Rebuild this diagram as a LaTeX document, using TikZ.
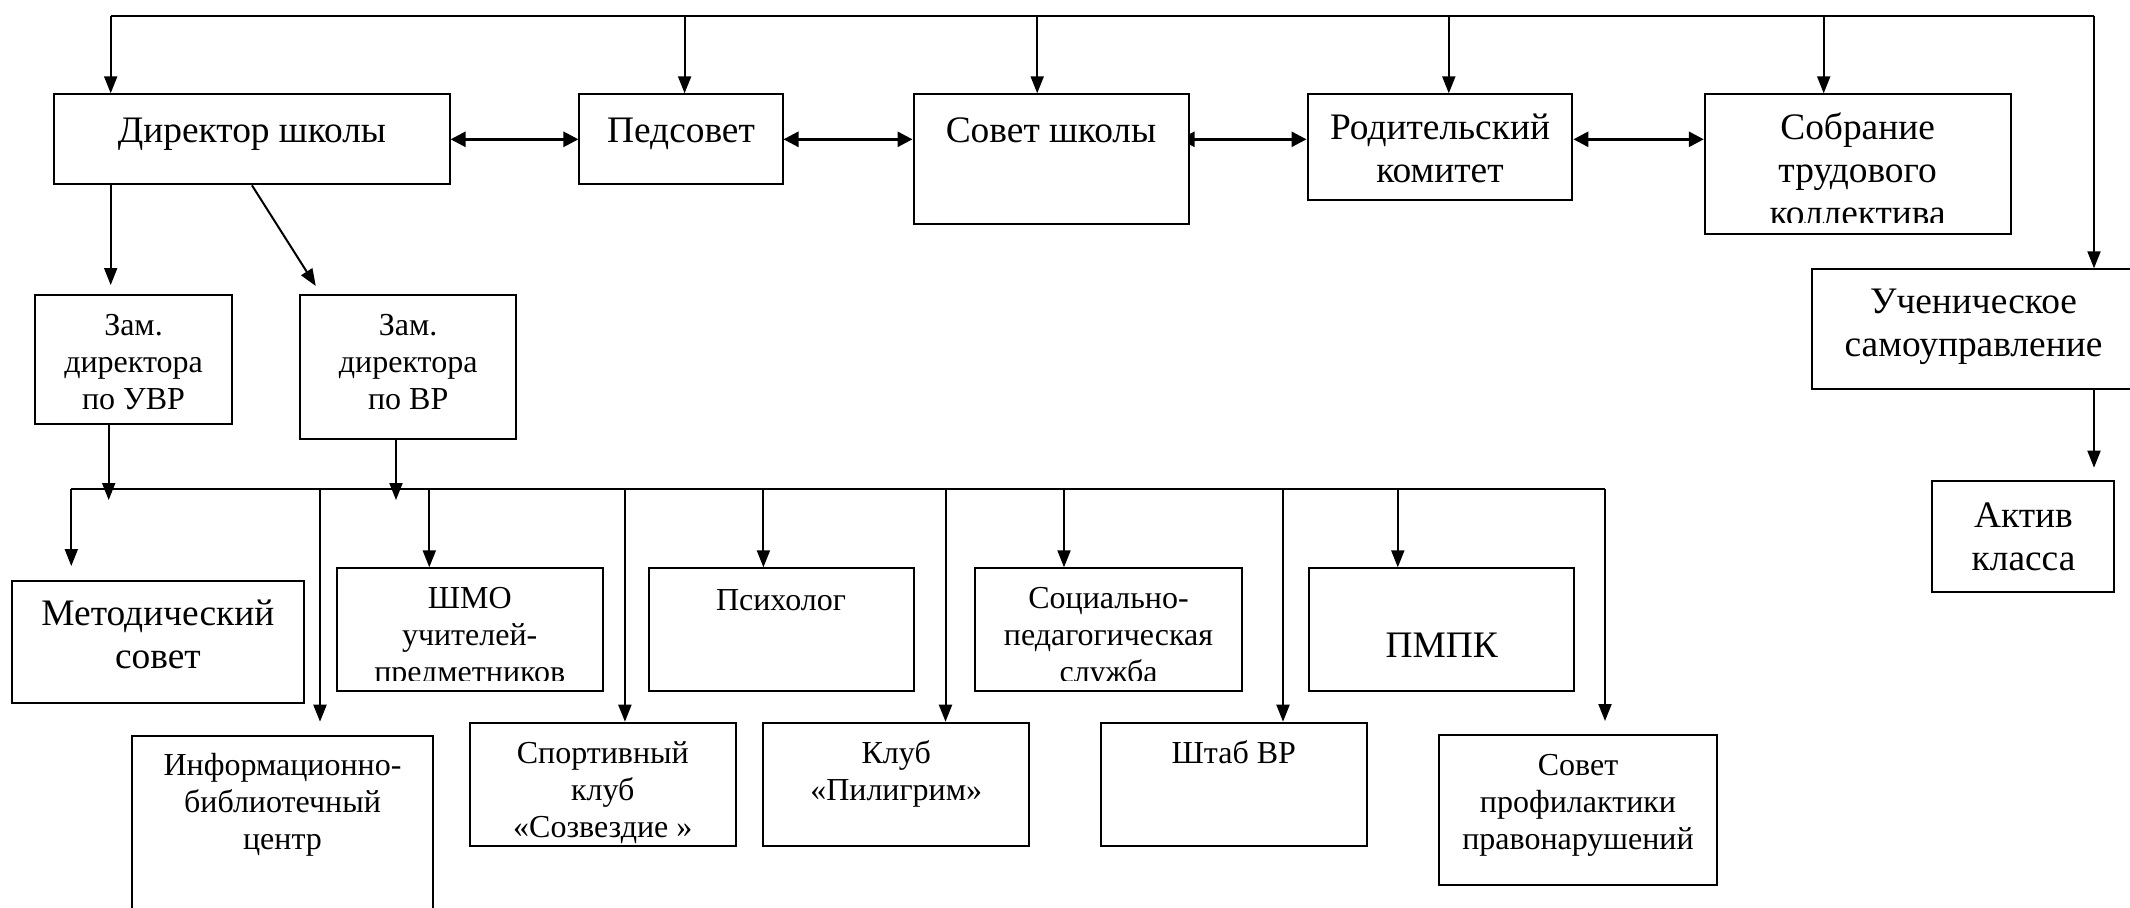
\documentclass[tikz,border=0pt]{standalone}
\usepackage{fontspec}
\setmainfont{Liberation Serif}
\usetikzlibrary{arrows.meta,fit,calc}
\pgfdeclarelayer{backdrop}
\pgfdeclarelayer{bg}
\pgfsetlayers{backdrop,bg,main}
\tikzset{
  box/.style={draw, line width=1pt, fill=white, inner sep=0pt},
  big/.style={font=\fontsize{18.7}{21.5}\selectfont, align=center, inner sep=0pt, anchor=north},
  small/.style={font=\fontsize{16}{18.5}\selectfont, align=center, inner sep=0pt, anchor=north},
  conn/.style={line width=1pt},
  arr/.style={line width=1pt, -{Triangle[length=8.5pt,width=6.5pt]}},
  darr/.style={line width=1.4pt, {Triangle[length=7.5pt,width=7.5pt]}-{Triangle[length=7.5pt,width=7.5pt]}}
}
\begin{document}
\begin{tikzpicture}[x=0.5pt,y=-0.5pt]
\clip (0,0) rectangle (2130,907);
\begin{pgfonlayer}{backdrop}
\fill[white] (0,0) rectangle (2130,907);
\end{pgfonlayer}
% boxes
\node[box, fit={(54.3,94.3) (449.6,184.3)}] (dir) {};
\node[box, fit={(579.4,94.3) (782.5,184.3)}] (ped) {};
\node[box, fit={(913.5,94.3) (1188.6,224)}] (sov) {};
\node[box, fit={(1307.5,94.3) (1572.4,200)}] (rod) {};
\node[box, fit={(1704.8,94.3) (2010.5,234)}] (sob) {};
\node[box, fit={(1812.1,269.3) (2140,389)}] (uch) {};
\node[box, fit={(1932.3,480.7) (2114.4,591.7)}] (akt) {};
\node[box, fit={(35.3,295) (231.6,424)}] (zuvr) {};
\node[box, fit={(300.2,295) (516.2,439.3)}] (zvr) {};
\node[box, fit={(12.2,581) (303.6,703.3)}] (met) {};
\node[box, fit={(336.9,568.3) (602.5,690.7)}] (shmo) {};
\node[box, fit={(648.6,568.3) (913.5,690.7)}] (psy) {};
\node[box, fit={(975.3,568.3) (1241.6,690.7)}] (soc) {};
\node[box, fit={(1308.8,568.3) (1574.4,690.7)}] (pmpk) {};
\node[box, fit={(132.4,735.7) (432.7,930)}] (info) {};
\node[box, fit={(470,722.7) (735.6,846)}] (sport) {};
\node[box, fit={(763.4,722.7) (1029,846)}] (klub) {};
\node[box, fit={(1101,722.7) (1366.6,846)}] (shtab) {};
\node[box, fit={(1439.2,735) (1717,885)}] (prof) {};
% texts
\node[big] (dirT) at (252,111.6) {\strut Директор школы};
\node[big] (pedT) at (681,111.6) {\strut Педсовет};
\node[big] (sovT) at (1051,111.6) {\strut Совет школы};
\node[big] (rodT) at (1440,109.4) {\strut Родительский\\комитет};
\begin{scope}
\clip (1704.8,94.3) rectangle (2010.5,222.5);
\node[big] (sobT) at (1857.6,109.4) {\strut Собрание\\трудового\\коллектива};
\end{scope}
\node[big] (metT) at (157.9,594.9) {\strut Методический\\совет};
\node[big] (pmpkT) at (1441.6,626.6) {\strut ПМПК};
\node[big] (uchT) at (1973.5,282.9) {\strut Ученическое\\самоуправление};
\node[big] (aktT) at (2023.5,496.6) {\strut Актив\\класса};
\node[small] (zuvrT) at (133.5,309.1) {\strut Зам.\\директора\\по УВР};
\node[small] (zvrT) at (408.2,309.1) {\strut Зам.\\директора\\по ВР};
\begin{scope}
\clip (336.9,568.3) rectangle (602.5,680);
\node[small] (shmoT) at (469.7,582.4) {\strut ШМО\\учителей-\\предметников};
\end{scope}
\node[small] (psyT) at (781,584.1) {\strut Психолог};
\begin{scope}
\clip (975.3,568.3) rectangle (1241.6,680);
\node[small] (socT) at (1108.5,582.1) {\strut Социально-\\педагогическая\\служба};
\end{scope}
\node[small] (infoT) at (282.5,749.1) {\strut Информационно-\\библиотечный\\центр};
\node[small] (sportT) at (602.8,737.1) {\strut Спортивный\\клуб\\«Созвездие »};
\node[small] (klubT) at (896.2,737.1) {\strut Клуб\\«Пилигрим»};
\node[small] (shtabT) at (1233.8,737.1) {\strut Штаб ВР};
\node[small] (profT) at (1578,749.1) {\strut Совет\\профилактики\\правонарушений};
% coordinates
\coordinate (tl) at (110.7,15.7);
\coordinate (tr) at (2094,15.7);
\coordinate (t2) at (684.6,15.7);
\coordinate (t3) at (1037.2,15.7);
\coordinate (t4) at (1448.8,15.7);
\coordinate (t5) at (1823.7,15.7);
\coordinate (d2) at (315.8,286);
\coordinate (a1) at (108.7,500);
\coordinate (a2) at (396,500);
\coordinate (busL) at (71.3,489);
\coordinate (busR) at (1605,489);
\coordinate (b2) at (320,489);
\coordinate (b3) at (429.3,489);
\coordinate (b4) at (624.9,489);
\coordinate (b5) at (763.4,489);
\coordinate (b6) at (945.5,489);
\coordinate (b7) at (1064,489);
\coordinate (b8) at (1283,489);
\coordinate (b9) at (1397.8,489);
\coordinate (sovL) at ([xshift=-5pt]sov.east);
\begin{pgfonlayer}{bg}
\draw[conn] (tl) -- (tr);
\draw[arr] (tl) -- (tl |- dir.north);
\draw[arr] (t2) -- (t2 |- ped.north);
\draw[arr] (t3) -- (t3 |- sov.north);
\draw[arr] (t4) -- (t4 |- rod.north);
\draw[arr] (t5) -- (t5 |- sob.north);
\draw[arr] (tr) -- (tr |- uch.north);
\draw[arr, shorten >=6pt] (tr |- uch.south) -- (tr |- akt.north);
\draw[darr] (dir.east) -- (ped.west);
\draw[darr] (ped.east) -- (ped.east -| sov.west);
\draw[darr] (sovL |- ped.east) -- (rod.west |- ped.east);
\draw[darr] (rod.east |- ped.east) -- (sob.west |- ped.east);
\draw[arr, shorten >=4.5pt] (tl |- dir.south) -- (tl |- zuvr.north);
\draw[arr] (dir.south) -- (d2);
\draw[arr] (a1 |- zuvr.south) -- (a1);
\draw[arr] (a2 |- zvr.south) -- (a2);
\draw[conn] (busL) -- (busR);
\draw[arr, shorten >=7pt] (busL) -- (busL |- met.north);
\draw[arr, shorten >=6.5pt] (b2) -- (b2 |- info.north);
\draw[arr] (b3) -- (b3 |- shmo.north);
\draw[arr] (b4) -- (b4 |- sport.north);
\draw[arr] (b5) -- (b5 |- psy.north);
\draw[arr] (b6) -- (b6 |- klub.north);
\draw[arr] (b7) -- (b7 |- soc.north);
\draw[arr] (b8) -- (b8 |- shtab.north);
\draw[arr] (b9) -- (b9 |- pmpk.north);
\draw[arr, shorten >=6.5pt] (busR) -- (busR |- prof.north);
\end{pgfonlayer}
\end{tikzpicture}
\end{document}
